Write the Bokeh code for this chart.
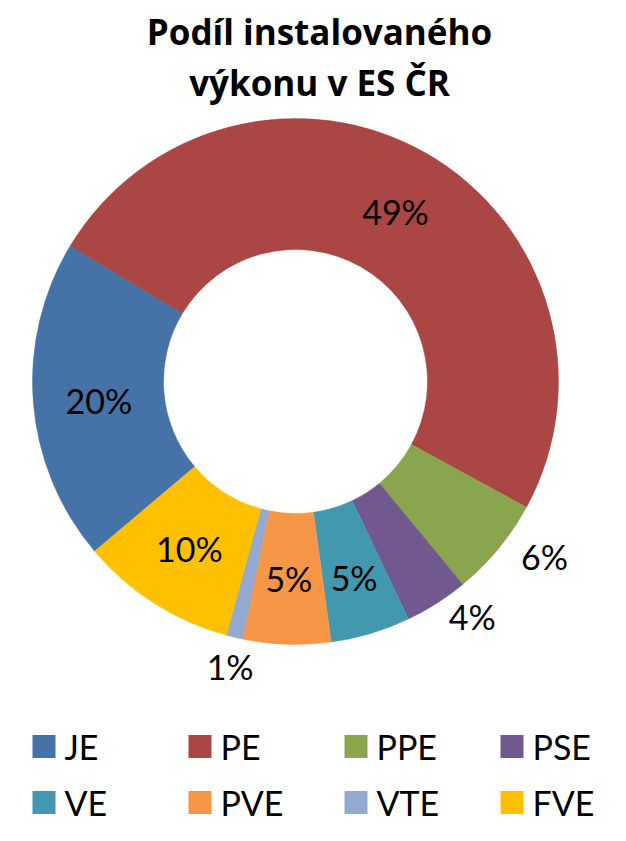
import math
from bokeh.plotting import figure
from bokeh.models import Range1d, ColumnDataSource
from bokeh.core.properties import value
from bokeh.embed import file_html
from bokeh.resources import INLINE

# ---- data ----
categories = ["JE", "PE", "PPE", "PSE", "VE", "PVE", "VTE", "FVE"]
shares = [19.8, 49.3, 6.1, 3.9, 4.9, 5.4, 1.0, 9.6]
colors = ["#4572A7", "#AA4643", "#89A54E", "#71588F", "#4198AF", "#F79646", "#93A9CF", "#FFC000"]
title_lines = ["Podíl instalovaného", "výkonu v ES ČR"]

# ---- layout (page pixels, top-left origin) ----
W, H = 610, 830


def px(x):
    return x - 8


def py(y):
    return H - (y - 8)


CX, CY = px(303), py(389)
R_OUT, R_IN = 263, 132
START = 229.8  # degrees clockwise from 12 o'clock
label_r = [197.5, 197.5, 304, 294, 205, 197.5, 292, 197.5]
label_shift = [-1, 0.6, -4.5, -4.5, 0, 0, -0.5, 0]
FONT = "Lato"
TITLE_FONT = "Open Sans"

p = figure(width=W, height=H, output_backend="svg", toolbar_location=None,
           x_range=Range1d(0, W), y_range=Range1d(0, H), min_border=0)
p.axis.visible = False
p.grid.visible = False
p.outline_line_color = None
p.background_fill_color = "white"
p.border_fill_color = "white"

total = sum(shares)
starts, ends, lx, ly, ltxt = [], [], [], [], []
cum = 0.0
for i, v in enumerate(shares):
    ts = START + 360.0 * cum / total
    te = ts + 360.0 * v / total
    cum += v
    starts.append(math.radians(90.0 - ts))
    ends.append(math.radians(90.0 - te))
    tm = math.radians((ts + te) / 2.0 + label_shift[i])
    lx.append(CX + label_r[i] * math.sin(tm))
    ly.append(CY + label_r[i] * math.cos(tm))
    ltxt.append(f"{round(100.0 * v / total):d}%")

src = ColumnDataSource(dict(start=starts, end=ends, color=colors, cat=categories))
p.annular_wedge(x=CX, y=CY, inner_radius=R_IN, outer_radius=R_OUT,
                inner_radius_units="screen", outer_radius_units="screen",
                start_angle="start", end_angle="end",
                direction="clock", fill_color="color", line_color="color",
                line_width=0.5, source=src)

p.text(x=lx, y=ly, text=ltxt, text_font=value(FONT), text_font_size="34px",
       text_align="center", text_baseline="middle", text_color="#000000")

# title
p.text(x=[px(327), px(327)], y=[py(39), py(90)], text=title_lines,
       text_font=value(TITLE_FONT), text_font_size="35px", text_font_style="bold",
       text_align="center", text_baseline="alphabetic", text_color="#000000")

# legend
sq = 23
lgx, lgy = [], []
tx, ty = [], []
for i, c in enumerate(categories):
    row, col = divmod(i, 4)
    left = 40 + col * 156
    cy = 754 + row * 56
    lgx.append(px(left + sq / 2))
    lgy.append(py(cy))
    tx.append(px(left + 32))
    ty.append(py(cy))
p.rect(x=lgx, y=lgy, width=sq, height=sq, fill_color=colors, line_color=None)
p.text(x=tx, y=ty, text=categories, text_font=value(FONT), text_font_size="34px",
       text_align="left", text_baseline="middle", text_color="#000000")

open("out.html", "w").write(file_html(p, INLINE))
